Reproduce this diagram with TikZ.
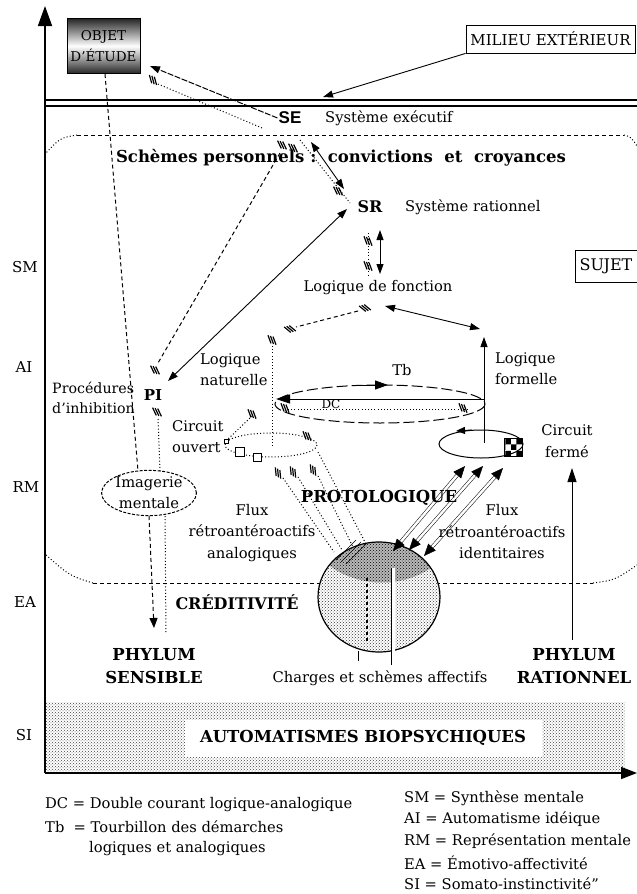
\documentclass[tikz,border=0pt]{standalone}
\usepackage{fontspec}
\setmainfont{DejaVu Serif}
\setsansfont{Liberation Sans}
\usetikzlibrary{arrows.meta,patterns,shapes.geometric}
\newcommand{\fsz}[2]{\fontsize{#1}{#2}\selectfont}

\begin{document}
\begin{tikzpicture}[x=1pt,y=-1pt,
  >={Triangle[length=10pt,width=7pt]},
  lbl/.style={inner sep=0pt, font=\fsz{14.7}{21.5}, align=center},
  llbl/.style={inner sep=0pt, font=\fsz{14.7}{21.5}, align=left},
  blbl/.style={inner sep=0pt, font=\fsz{16.5}{23}\bfseries, align=center},
  axlbl/.style={inner sep=0pt, font=\fsz{15}{17}},
  leg/.style={inner sep=0pt, font=\fsz{14.7}{17}, anchor=west},
  boxed/.style={draw, line width=0.8pt, inner sep=0pt, font=\fsz{15}{17}},
  axisline/.style={line width=1.6pt},
  solidln/.style={line width=0.9pt},
  dashln/.style={line width=1pt, dash pattern=on 4pt off 3pt},
  longdash/.style={line width=1pt, dash pattern=on 11pt off 4pt},
  dotln/.style={line width=1pt, dash pattern=on 1pt off 2.2pt},
  hatchmark/.pic={\foreach \d in {-2.6,0,2.6} \draw[line width=1.2pt] ({\d-2.5},-3.5) -- ({\d+2.5},3.5);},
  smallsq/.style={draw, fill=white, line width=0.8pt, inner sep=0pt, minimum size=#1}
]
\useasboundingbox (0,0) rectangle (637,894);

% ---------- somato-instinctive band
\fill[pattern=crosshatch dots, pattern color=black!75] (46,702) rectangle (625,771);
\node[fill=white, minimum width=357pt, minimum height=37pt, inner sep=0pt,
      font=\fsz{16.5}{18}\bfseries] (auto) at (363,738) {AUTOMATISMES BIOPSYCHIQUES};

% ---------- axes
\coordinate (orig) at (45,773);
\coordinate (ytop) at (45,6);
\coordinate (xend) at (637,773);
\draw[axisline, -{Triangle[length=20pt,width=14pt]}] (orig) -- (ytop);
\draw[axisline, -{Triangle[length=16pt,width=12pt]}] (orig) -- (xend);

% ---------- boundary with the outside world
\draw[line width=1.2pt] (45,100) -- (637,100);
\draw[line width=1.2pt] (45,106) -- (637,106);

% ---------- boxes
\node[boxed, minimum width=73pt, minimum height=55pt, top color=black!85,
      bottom color=black!85, middle color=white, font=\fsz{13.5}{21}, align=center]
      (objet) at (103.5,46) {OBJET\\D’ÉTUDE};
\node[boxed, minimum width=169pt, minimum height=28pt] (milieu) at (550.5,39) {MILIEU EXTÉRIEUR};
\node[boxed, minimum width=62pt, minimum height=32pt, font=\fsz{16}{18}] (sujet) at (606,266) {SUJET};

% ---------- level labels
\node[axlbl] (lSM) at (25,267) {SM};
\node[axlbl] (lAI) at (24,367) {AI};
\node[axlbl] (lRM) at (26,487) {RM};
\node[axlbl] (lEA) at (25,602) {EA};
\node[axlbl] (lSI) at (24,735) {SI};

% ---------- region of personal schemes
\draw[dashln] (77,135) -- (624,135);
\draw[dotln] (77,135) .. controls (60,138) .. (46,153);
\draw[dotln] (624,135) .. controls (631,137) .. (637,146);
\draw[dashln] (93,583) -- (593,583);
\draw[dotln] (46,555) .. controls (70,576) .. (93,583);
\draw[dotln] (593,583) .. controls (615,580) .. (637,565);
\node[blbl] (schemes) at (341,158) {Schèmes personnels :\ \ convictions \ et \ croyances};

% ---------- executive system
\node[inner sep=1pt, font=\fsz{17}{17}\sffamily\bfseries] (SE) at (290,118) {SE};
\node[lbl, anchor=west] (SEtxt) at (325,118) {Système exécutif};
\coordinate (mtip) at (323,97);
\draw[solidln, ->] (milieu.south west) -- (mtip);
\coordinate (otip) at (150,66);
\draw[line width=1pt, dash pattern=on 6pt off 1.5pt, ->] (SE.west) -- (otip);
\coordinate (sedot) at (262,128);
\coordinate (odot) at (158,84);
\draw[dotln] (sedot) -- (odot);
\pic[rotate=-20] at (153,80) {hatchmark};

% ---------- rational system
\node[inner sep=1pt, font=\fsz{16}{16}\bfseries] (SR) at (370,207) {SR};
\node[lbl, anchor=west] (SRtxt) at (405,207) {Système rationnel};
\pic[rotate=-10] at (282,145) {hatchmark};
\pic[rotate=-10] at (293,148) {hatchmark};
\coordinate (up1) at (311,142);
\coordinate (up2) at (344,189);
\draw[solidln, <->] (up1) -- (up2);
\coordinate (dt1) at (300,140);
\coordinate (dt2) at (350,203);
\draw[dotln] (dt1) -- (dt2);
\pic[rotate=-10] at (338,191) {hatchmark};

% ---------- PI and its links
\node[inner sep=1pt, font=\fsz{15}{15}\bfseries] (PI) at (153,395) {PI};
\node[llbl, font=\fsz{14.2}{20}, anchor=north west] (proc) at (52,382) {Procédures\\d’inhibition};
\coordinate (srtip) at (347,209);
\coordinate (pitip) at (168,381);
\draw[solidln, <->] (pitip) -- (srtip);
\coordinate (sedash) at (280,153);
\coordinate (pidash) at (158,363);
\draw[dashln] (sedash) -- (pidash);
\pic[rotate=-10] at (155,370) {hatchmark};
\pic[rotate=-10] at (157,412) {hatchmark};

% ---------- object line down to the imagery
\node[draw, ellipse, dash pattern=on 3pt off 1.5pt, line width=1pt, minimum width=88pt,
      minimum height=44pt, inner sep=0pt, font=\fsz{14.7}{21}, align=center]
      (imag) at (149,493) {Imagerie\\mentale};
\coordinate (objbot) at (105,74);
\coordinate (imtop1) at (138,471);
\draw[dashln] (objbot) -- (132,400) -- (imtop1);
\coordinate (pidot) at (158,419);
\coordinate (imtop2) at (160,471);
\draw[dotln] (pidot) -- (imtop2);
\coordinate (imb1) at (149,516);
\coordinate (imtip) at (154,628);
\draw[dashln, -{Triangle[length=10pt,width=8pt]}] (imb1) -- (imtip);
\coordinate (imb2) at (165,516);
\coordinate (imb3) at (166,633);
\draw[dotln] (imb2) -- (imb3);

\node[inner sep=0pt, font=\fsz{16}{18}\bfseries] (credit) at (237,602) {CRÉDITIVITÉ};
\node[blbl] (phyS) at (154,666) {PHYLUM\\SENSIBLE};

% ---------- logic of function
\coordinate (fa) at (380,230);
\coordinate (fb) at (380,274);
\draw[solidln, <->] (fa) -- (fb);
\coordinate (fd1) at (368,233);
\coordinate (fd2) at (368,277);
\draw[dotln] (fd1) -- (fd2);
\pic[rotate=-15] at (368,241) {hatchmark};
\pic[rotate=-15] at (368,266) {hatchmark};
\node[lbl] (lfonc) at (378,288) {Logique de fonction};
\pic[rotate=15] at (365,308) {hatchmark};
\coordinate (fl1) at (385,306);
\coordinate (fl2) at (480,329);
\draw[solidln, <->] (fl1) -- (fl2);
\coordinate (fn1) at (358,311);
\coordinate (fn2) at (296,327);
\draw[dashln] (fn1) -- (fn2);
\pic[rotate=15] at (290,329) {hatchmark};

% ---------- natural logic, double current, whirl
\node[llbl, anchor=north west] (lnat) at (200,353) {Logique\\naturelle};
\coordinate (nv1) at (272,346);
\coordinate (nv2) at (272,447);
\draw[dotln] (nv1) -- (nv2);
\pic[rotate=-15] at (272,340) {hatchmark};

\coordinate (whirl) at (380,404);
\draw[longdash] (whirl) ellipse [x radius=105, y radius=19];
\coordinate (tbA) at (362,385);
\coordinate (tbB) at (388,385);
\draw[line width=1pt, -{Triangle[length=13pt,width=9pt]}] (tbA) -- (tbB);
\node[lbl] (Tb) at (402,370) {Tb};
\coordinate (dcR) at (485,399);
\coordinate (dcL) at (276,399);
\draw[solidln, -{Triangle[length=14pt,width=9pt]}] (dcR) -- (dcL);
\coordinate (dcR2) at (470,409);
\coordinate (dcL2) at (288,409);
\draw[dotln] (dcL2) -- (dcR2);
\node[inner sep=0pt, font=\fsz{12}{13}] (DC) at (331,404) {DC};
\pic[rotate=-15] at (285,408) {hatchmark};
\pic[rotate=-15] at (463,408) {hatchmark};

% ---------- formal logic and closed circuit
\coordinate (ffb) at (484,443);
\coordinate (fft) at (484,337);
\draw[solidln, ->] (ffb) -- (fft);
\node[llbl, anchor=north west] (lform) at (495,352) {Logique\\formelle};
\coordinate (ferme) at (481,444);
\draw[line width=1pt] (ferme) ellipse [x radius=42, y radius=14];
\coordinate (fe1) at (472,430);
\coordinate (fe2) at (456,431);
\draw[line width=1pt, -{Triangle[length=9pt,width=7pt]}] (fe1) -- (fe2);
\node[draw, fill=white, pattern=checkerboard, line width=0.8pt, minimum size=18pt, inner sep=0pt] (chk) at (513,447) {};
\node[lbl] (cferme) at (567,441) {Circuit\\fermé};

% ---------- open circuit
\coordinate (ouvert) at (271,445);
\draw[dotln] (ouvert) ellipse [x radius=46, y radius=12];
\node[llbl, anchor=north west] (couvert) at (172,420) {Circuit\\ouvert};
\node[smallsq=4pt] (sq0) at (226,441) {};
\node[smallsq=9pt] (sq1) at (240,452) {};
\node[smallsq=8pt] (sq2) at (257,457) {};
\coordinate (oh) at (252,416);
\draw[dotln] (sq0) -- (oh);
\pic[rotate=-15] at (252,414) {hatchmark};
\pic[rotate=-15] at (307,436) {hatchmark};

% ---------- affective core
\coordinate (core) at (379,597);
\fill[white] (core) ellipse [x radius=61, y radius=55];
\fill[pattern=crosshatch dots, pattern color=black!80] (core) ellipse [x radius=61, y radius=55];
\begin{scope}
  \clip (core) ellipse [x radius=61, y radius=55];
  \fill[gray!55] (315,540) -- (445,540) -- (445,556) .. controls (412,592) and (348,592) .. (315,552) -- cycle;
  \fill[pattern=crosshatch dots, pattern color=black] (315,540) -- (445,540) -- (445,556) .. controls (412,592) and (348,592) .. (315,552) -- cycle;
\end{scope}
\draw[line width=1.2pt] (core) ellipse [x radius=61, y radius=55];
\coordinate (cv1) at (367,578);
\coordinate (cv2) at (367,642);
\draw[line width=1.3pt, dash pattern=on 3pt off 3pt] (cv1) -- (cv2);
\coordinate (cd1) at (393,568);
\coordinate (cd2) at (393,665);
\draw[line width=0.8pt, double, double distance=3pt] (cd1) -- (cd2);
\coordinate (tk1) at (358,651);
\coordinate (tk2) at (358,661);
\draw[line width=0.8pt] (tk1) -- (tk2);
\node[lbl] (charges) at (380,678) {Charges et schèmes affectifs};

% analogical flows: from the open circuit down to the core
\pic[rotate=-30] at (278,473) {hatchmark};
\pic[rotate=-30] at (293,472) {hatchmark};
\pic[rotate=-30] at (313,470) {hatchmark};
\coordinate (a0) at (318,452);
\coordinate (a1) at (283,478);
\coordinate (a2) at (298,477);
\coordinate (a3) at (318,476);
\coordinate (b0) at (334,552);
\coordinate (b1) at (342,550);
\coordinate (b2) at (353,547);
\coordinate (b3) at (366,544);
\draw[dotln] (a0) -- (b3);
\draw[dotln] (a1) -- (b0);
\draw[dotln] (a2) -- (b1);
\draw[dotln] (a3) -- (b2);
\draw[line width=0.6pt] (336,560) -- (356,540);
\draw[line width=0.6pt] (341,562) -- (361,542);
\draw[line width=0.6pt] (346,564) -- (366,544);

% identity flows: from the core up to the closed circuit
\coordinate (c1) at (393,551);
\coordinate (c2) at (409,550);
\coordinate (c3) at (424,556);
\coordinate (d1) at (465,466);
\coordinate (d2) at (483,466);
\coordinate (d3) at (503,468);
\foreach \s/\t in {c1/d1, c2/d2, c3/d3}
  \draw[line width=0.5pt, double, double distance=2.5pt,
        {Triangle[length=12pt,width=10pt]}-{Triangle[length=12pt,width=10pt]}] (\s) -- (\t);

\node[inner sep=0pt, font=\fsz{16.5}{18}\bfseries] (proto) at (379,498) {PROTOLOGIQUE};
\node[lbl] (fluxA) at (252,533) {Flux\\rétroantéroactifs\\analogiques};
\node[lbl] (fluxI) at (502,532) {Flux\\rétroantéroactifs\\identitaires};

% ---------- rational phylum
\coordinate (pr1) at (572,640);
\coordinate (pr2) at (572,468);
\draw[solidln, -{Triangle[length=14pt,width=9pt]}] (pr1) -- (pr2);
\node[blbl] (phyR) at (574,666) {PHYLUM\\RATIONNEL};

% ---------- legends
\node[leg] (legDC) at (45,805) {DC = Double courant logique-analogique};
\node[leg] (legTb) at (45,827) {Tb\ \ = Tourbillon des démarches};
\node[leg] (legTb2) at (89,849) {logiques et analogiques};
\node[leg] (legSM) at (404,798) {SM = Synthèse mentale};
\node[leg] (legAI) at (404,819) {AI = Automatisme idéique};
\node[leg] (legRM) at (404,841) {RM = Représentation mentale};
\node[leg] (legEA) at (404,863) {EA = Émotivo-affectivité};
\node[leg] (legSI) at (404,884) {SI = Somato-instinctivité”};
\end{tikzpicture}
\end{document}
